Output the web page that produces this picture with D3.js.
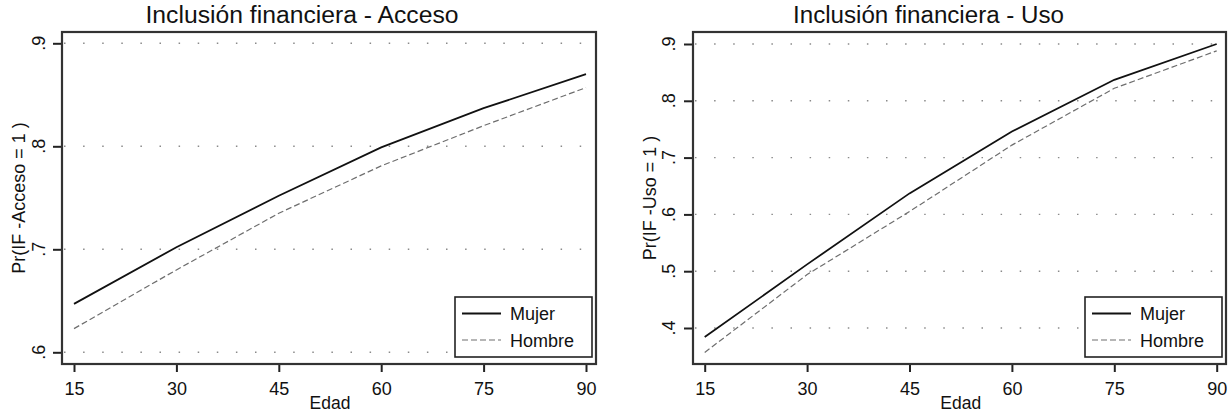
<!DOCTYPE html>
<html>
<head>
<meta charset="utf-8">
<script src="https://cdn.jsdelivr.net/npm/d3@7"></script>
<style>
  html, body { margin: 0; padding: 0; background: #fff; }
  svg { display: block; font-family: "Liberation Sans", Arial, sans-serif; }
</style>
</head>
<body>
<svg id="chart" width="1228" height="416"></svg>
<script>
// ---- data ----
const ages = [15, 30, 45, 60, 75, 90];
const xTickValues = [15, 30, 45, 60, 75, 90];

const accesoMujer  = [0.647, 0.702, 0.752, 0.799, 0.837, 0.870];
const accesoHombre = [0.623, 0.680, 0.735, 0.781, 0.820, 0.857];
const usoMujer     = [0.384, 0.512, 0.637, 0.746, 0.837, 0.900];
const usoHombre    = [0.357, 0.494, 0.605, 0.722, 0.822, 0.888];

const accesoTicks = [0.6, 0.7, 0.8, 0.9];
const usoTicks    = [0.4, 0.5, 0.6, 0.7, 0.8, 0.9];

const seriesNames = ["Mujer", "Hombre"];
const titles = ["Inclusión financiera - Acceso", "Inclusión financiera - Uso"];
const yTitles = ["Pr(IF -Acceso = 1 )", "Pr(IF -Uso = 1 )"];
const xTitle = "Edad";

// ---- layout ----
const panels = [
  { frame: {l: 62, r: 596, t: 32, b: 364}, xRange: [74, 586], yDomain: [0.6, 0.9], yRange: [352.3, 43.3],
    ticks: accesoTicks, mujer: accesoMujer, hombre: accesoHombre, title: titles[0], yTitle: yTitles[0],
    titleX: 302, titleLen: 313, yTitleX: 25, yLabelX: 45 },
  { frame: {l: 693, r: 1226, t: 32, b: 364}, xRange: [704.7, 1216.7], yDomain: [0.4, 0.9], yRange: [328, 44],
    ticks: usoTicks, mujer: usoMujer, hombre: usoHombre, title: titles[1], yTitle: yTitles[1],
    titleX: 928.5, titleLen: 271, yTitleX: 656, yLabelX: 675 }
];

const svg = d3.select("#chart");
const fmt = v => d3.format(".1f")(v).replace(/^0/, "");

panels.forEach(p => {
  const g = svg.append("g");
  const f = p.frame;
  const x = d3.scaleLinear().domain([15, 90]).range(p.xRange);
  const y = d3.scaleLinear().domain(p.yDomain).range(p.yRange);

  // title
  g.append("text")
    .attr("x", p.titleX).attr("y", 23)
    .attr("text-anchor", "middle")
    .attr("font-size", 23.5)
    .attr("textLength", p.titleLen)
    .attr("lengthAdjust", "spacingAndGlyphs")
    .attr("fill", "#111")
    .text(p.title);

  // gridlines (dotted)
  g.append("g").selectAll("line").data(p.ticks).join("line")
    .attr("x1", f.l + 2).attr("x2", f.r - 2)
    .attr("y1", d => y(d)).attr("y2", d => y(d))
    .attr("stroke", "#8a8a8a").attr("stroke-width", 1.4)
    .attr("stroke-dasharray", "1.5,17.6");

  // lines
  const line = d3.line().x((d, i) => x(ages[i])).y(d => y(d));
  g.append("path").datum(p.hombre)
    .attr("d", line).attr("fill", "none")
    .attr("stroke", "#6e6e6e").attr("stroke-width", 1.2)
    .attr("stroke-dasharray", "6,3");
  g.append("path").datum(p.mujer)
    .attr("d", line).attr("fill", "none")
    .attr("stroke", "#111").attr("stroke-width", 1.8);

  // y axis ticks
  const yAxis = d3.axisLeft(y).tickValues(p.ticks).tickSize(9).tickPadding(0).tickFormat(fmt);
  const ya = g.append("g").attr("transform", `translate(${f.l},0)`).call(yAxis);
  ya.select(".domain").remove();
  ya.selectAll(".tick line").attr("stroke", "#222").attr("stroke-width", 2);
  ya.selectAll(".tick text").remove();
  g.append("g").selectAll("text").data(p.ticks).join("text")
    .attr("transform", d => `translate(${p.yLabelX},${y(d)}) rotate(-90)`)
    .attr("text-anchor", "middle")
    .attr("font-size", 18)
    .attr("fill", "#111")
    .text(fmt);

  // x axis ticks
  const xAxis = d3.axisBottom(x).tickValues(xTickValues).tickSize(8).tickPadding(0).tickFormat(d3.format("d"));
  const xa = g.append("g").attr("transform", `translate(0,${f.b})`).call(xAxis);
  xa.select(".domain").remove();
  xa.selectAll(".tick line").attr("stroke", "#222").attr("stroke-width", 2);
  xa.selectAll(".tick text")
    .attr("y", 31).attr("dy", null)
    .attr("font-size", 18).attr("font-family", "Liberation Sans, Arial, sans-serif")
    .attr("fill", "#111");

  // frame
  g.append("rect")
    .attr("x", f.l).attr("y", f.t)
    .attr("width", f.r - f.l).attr("height", f.b - f.t)
    .attr("fill", "none").attr("stroke", "#333").attr("stroke-width", 2.2);

  // axis titles
  g.append("text")
    .attr("x", (p.xRange[0] + p.xRange[1]) / 2).attr("y", 409)
    .attr("text-anchor", "middle").attr("font-size", 17.5).attr("fill", "#111")
    .text(xTitle);
  g.append("text")
    .attr("transform", `translate(${p.yTitleX},${(f.t + f.b) / 2}) rotate(-90)`)
    .attr("text-anchor", "middle").attr("font-size", 18).attr("fill", "#111")
    .text(p.yTitle);

  // legend
  const lw = 137, lh = 60;
  const lx = f.r - 4 - lw, ly = 297;
  const lg = g.append("g").attr("transform", `translate(${lx},${ly})`);
  lg.append("rect").attr("width", lw).attr("height", lh)
    .attr("fill", "#fff").attr("stroke", "#222").attr("stroke-width", 1.6);
  const items = [
    { name: seriesNames[0], stroke: "#111", w: 1.8, dash: null },
    { name: seriesNames[1], stroke: "#6e6e6e", w: 1.2, dash: "6,3" }
  ];
  items.forEach((it, i) => {
    const yy = 16.5 + i * 26.5;
    lg.append("line").attr("x1", 7).attr("x2", 46).attr("y1", yy).attr("y2", yy)
      .attr("stroke", it.stroke).attr("stroke-width", it.w)
      .attr("stroke-dasharray", it.dash);
    lg.append("text").attr("x", 55).attr("y", yy + 6.5)
      .attr("font-size", 18).attr("fill", "#111").text(it.name);
  });
});
</script>
</body>
</html>
